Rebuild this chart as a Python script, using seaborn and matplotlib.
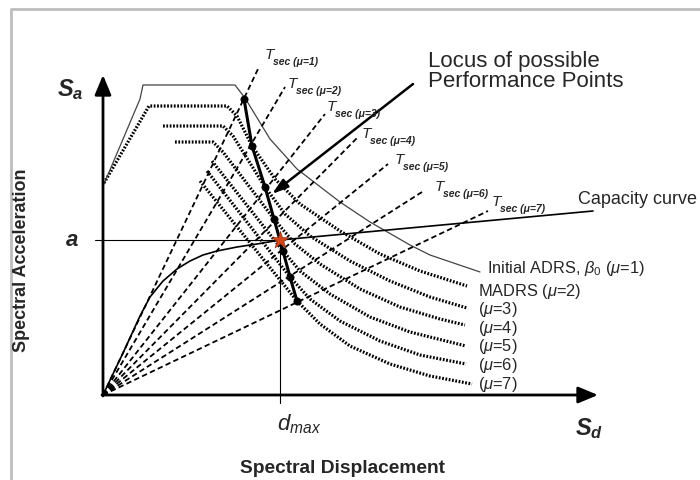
import matplotlib
matplotlib.use("Agg")
import matplotlib.pyplot as plt
import seaborn as sns

sns.set_theme(style="white")
plt.rcParams["font.family"] = ["Liberation Sans", "DejaVu Sans"]
plt.rcParams["mathtext.fontset"] = "custom"
plt.rcParams["mathtext.rm"] = "Liberation Sans"
plt.rcParams["mathtext.it"] = "Liberation Sans:italic"
plt.rcParams["mathtext.bf"] = "Liberation Sans:bold:italic"

# ---- capacity curve (spectral displacement, spectral acceleration) ----
capacity_sd = [0, 20, 37, 47, 60, 74, 87, 100, 114, 134, 154, 177, 490]
capacity_sa = [0, 42, 79, 98, 114, 126, 134, 140, 144, 148, 151, 155, 184]

# ---- initial (elastic) ADRS, mu = 1 ----
adrs_sd = [1, 37, 40, 132, 142, 167, 194, 237, 267, 307, 327, 377]
adrs_sa = [211, 296, 310, 310, 297, 256, 226, 193, 173, 150, 140, 123]

# ---- modified ADRS curves for mu = 2..7 ----
madrs2_sd = [1, 46, 124, 134, 149, 172, 197, 237, 277, 317, 364]
madrs2_sa = [212, 289, 289, 279, 249, 216, 191, 164, 141, 124, 109]
madrs3_sd = [60, 120, 130, 162, 182, 207, 247, 287, 327, 364]
madrs3_sa = [269, 269, 259, 208, 181, 159, 134, 114, 98, 87]
madrs4_sd = [72, 110, 120, 171, 192, 217, 257, 297, 337, 362]
madrs4_sa = [253, 253, 243, 176, 151, 131, 106, 88, 76, 70]
madrs5_sd = [109, 180, 197, 227, 267, 307, 363]
madrs5_sa = [234, 144, 124, 101, 78, 63, 49]
madrs6_sd = [104, 187, 207, 237, 277, 317, 363]
madrs6_sa = [224, 118, 96, 74, 54, 40, 31]
madrs7_sd = [97, 194, 217, 247, 287, 327, 369]
madrs7_sa = [214, 94, 71, 49, 31, 19, 11]

madrs_curves = [(madrs2_sd, madrs2_sa), (madrs3_sd, madrs3_sa),
                (madrs4_sd, madrs4_sa), (madrs5_sd, madrs5_sa),
                (madrs6_sd, madrs6_sa), (madrs7_sd, madrs7_sa)]

# ---- secant period lines (from origin to these end points) ----
ductility = [1, 2, 3, 4, 5, 6, 7]
tsec_end_sd = [155, 182, 222, 255, 285, 319, 385]
tsec_end_sa = [326, 308, 281, 258, 231, 203, 184]
tsec_label_sd = [162, 185, 224, 259, 292, 332, 389]
tsec_label_sa = [348, 319, 296, 269, 243, 216, 201]

# ---- locus of possible performance points ----
locus_sd = [141, 149, 162, 171, 180, 187, 194]
locus_sa = [296, 249, 208, 176, 144, 118, 94]

# ---- performance point ----
perf_sd = 177
perf_sa = 155

# ---- demand spectrum labels ----
spectrum_labels = [r"Initial ADRS, $\beta_0$ ($\mu$=1)", r"MADRS ($\mu$=2)",
                   r"($\mu$=3)", r"($\mu$=4)", r"($\mu$=5)", r"($\mu$=6)", r"($\mu$=7)"]
spectrum_label_sd = [384, 375, 375, 375, 375, 375, 375]
spectrum_label_sa = [127, 104, 86, 67, 49, 30, 11]

fig = plt.figure(figsize=(7.0, 4.81), dpi=100)
ax = fig.add_axes([0, 0, 1, 1])

# page frame
ax.plot([-92, -92, 597], [-85, 386, 386], color="#bdbdbd", lw=2.0,
        solid_capstyle="butt", zorder=1)

dot_style = dict(color="black", lw=2.3, linestyle=(0, (0.55, 0.5)),
                 dash_capstyle="butt")
for sd, sa in madrs_curves:
    sns.lineplot(x=sd, y=sa, sort=False, estimator=None, ax=ax, **dot_style)

sns.lineplot(x=adrs_sd, y=adrs_sa, sort=False, estimator=None, ax=ax,
             color="#444444", lw=0.9)

for esd, esa in zip(tsec_end_sd, tsec_end_sa):
    sns.lineplot(x=[0, esd], y=[0, esa], sort=False, estimator=None, ax=ax,
                 color="black", lw=1.3, linestyle=(0, (3.0, 1.8)))

sns.lineplot(x=capacity_sd, y=capacity_sa, sort=False, estimator=None, ax=ax,
             color="black", lw=1.2)

# reference lines for the performance point
ax.plot([-8, perf_sd], [perf_sa, perf_sa], color="black", lw=0.8)
ax.plot([perf_sd, perf_sd], [perf_sa, -8], color="black", lw=0.8)

sns.lineplot(x=locus_sd, y=locus_sa, sort=False, estimator=None, ax=ax,
             color="black", lw=2.2)
sns.scatterplot(x=locus_sd, y=locus_sa, ax=ax, color="black", s=28,
                edgecolor="black", zorder=5)
sns.scatterplot(x=[perf_sd], y=[perf_sa], ax=ax, marker="*", s=170,
                color="#d2461a", edgecolor="#8a2a10", linewidth=0.5, zorder=6)

# axes arrows
arrow_kw = dict(arrowstyle="-|>,head_length=0.6,head_width=0.25", lw=2.0,
                color="black", mutation_scale=20, shrinkA=0, shrinkB=0)
ax.annotate("", xy=(0, 320), xytext=(0, -1), arrowprops=arrow_kw)
ax.annotate("", xy=(495, 0), xytext=(-1, 0), arrowprops=arrow_kw)

# locus arrow
ax.annotate("", xy=(169, 201), xytext=(310, 311),
            arrowprops=dict(arrowstyle="-|>,head_length=0.8,head_width=0.25",
                            lw=1.8, color="black", mutation_scale=12,
                            shrinkA=0, shrinkB=0))

# secant period labels
for k, lsd, lsa in zip(ductility, tsec_label_sd, tsec_label_sa):
    ax.text(lsd, lsa, "T", fontsize=11, fontstyle="italic", ha="left", va="top")
    ax.annotate(f"sec (\u03bc={k})", xy=(lsd, lsa), xytext=(6.0, -6.8),
                textcoords="offset points", fontsize=7.5, fontstyle="italic",
                fontweight="bold", ha="left", va="top")

for lab, lsd, lsa in zip(spectrum_labels, spectrum_label_sd, spectrum_label_sa):
    ax.text(lsd, lsa, lab, fontsize=11.8, ha="left", va="center")

ax.text(325, 345, "Locus of possible\nPerformance Points", fontsize=16,
        ha="left", va="top", linespacing=0.93)
ax.text(475, 196, "Capacity curve", fontsize=13, ha="left", va="center")

ax.text(-46, 300, r"$\mathbf{S_a}$", fontsize=17, ha="left", va="baseline")
ax.text(472, -39, r"$\mathbf{S_d}$", fontsize=17, ha="left", va="baseline")
ax.text(-31, 155, r"$\mathbf{a}$", fontsize=16, ha="center", va="center")
ax.text(174, -34, r"$d_{max}$", fontsize=16, ha="left", va="baseline")

ax.text(239, -73, "Spectral Displacement", fontsize=13.8, fontweight="bold",
        ha="center", va="center")
ax.text(-81, 136, "Spectral Acceleration", fontsize=13, fontweight="bold",
        rotation=90, ha="center", va="center")

ax.set_xlim(-103, 597)
ax.set_ylim(-85, 396)
ax.axis("off")

fig.savefig("out.png", dpi=100)
